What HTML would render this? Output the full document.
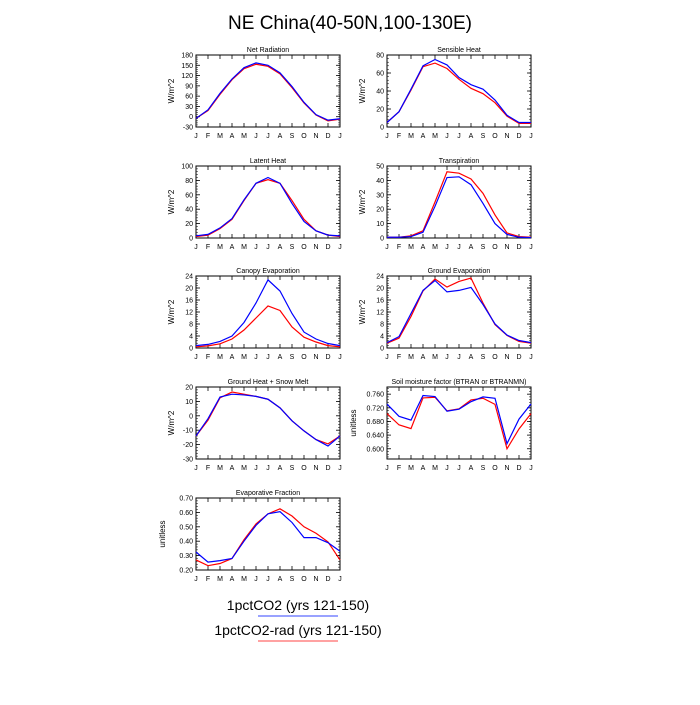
<!DOCTYPE html>
<html><head><meta charset="utf-8"><style>
body{margin:0;background:#fff;width:700px;height:700px;overflow:hidden;font-family:"Liberation Sans",sans-serif}
</style></head><body>
<svg id="c" width="700" height="700" xmlns="http://www.w3.org/2000/svg">
<text x="350" y="29" font-size="19" text-anchor="middle">NE China(40-50N,100-130E)</text>
<text x="298" y="610" font-size="14" text-anchor="middle">1pctCO2 (yrs 121-150)</text>
<line x1="258" y1="616" x2="338" y2="616" stroke="#3344ff" stroke-width="1"/>
<text x="298" y="635" font-size="14" text-anchor="middle">1pctCO2-rad (yrs 121-150)</text>
<line x1="258" y1="641" x2="338" y2="641" stroke="#ff4444" stroke-width="1"/>
</svg>
<script>
const months = ["J","F","M","A","M","J","J","A","S","O","N","D","J"];
const netRadBlue = [-5,20,68,110,143,157,150,128,88,42,6,-10,-6];
const netRadRed = [-5,18,65,108,140,153,147,125,85,40,5,-12,-7];
const sensBlue = [5,17,42,68,75,69,55,47,42,30,13,5,5];
const sensRed = [5,17,41,67,71,65,53,43,37,27,12,4,4];
const latBlue = [3,5,14,27,53,76,84,76,48,23,10,4,3];
const latRed = [2,4,13,26,52,76,81,76,52,26,10,4,2];
const trBlue = [0.5,0.5,1,4,22,42,42.5,37,24,10,2.5,0.5,0.3];
const trRed = [0.5,0.5,1.5,5,25,46,45,41,31,16,3.5,1,0.5];
const canBlue = [0.8,1.2,2.2,4,8.5,15,22.7,19,11.5,5.3,3,1.5,0.8];
const canRed = [0.4,0.7,1.4,3,6,10,14,12.5,7,3.6,2,0.8,0.4];
const geBlue = [1.8,3.8,11.5,19.2,22.5,18.7,19.2,20.2,14.5,8,4.3,2.5,1.8];
const geRed = [1.6,3.3,10.5,19,23,20.3,22.2,23.3,15,7.8,4.2,2.2,1.6];
const ghBlue = [-14,-2,13,15,14.5,13.5,11.5,5.5,-3.5,-10.5,-16.5,-21,-14];
const ghRed = [-14,-3,12.5,16.5,15,13.5,11.5,5.5,-3.5,-10.5,-16.5,-19.5,-14];
const smBlue = [0.731,0.695,0.684,0.756,0.753,0.710,0.716,0.738,0.752,0.748,0.615,0.687,0.731];
const smRed = [0.703,0.670,0.659,0.749,0.751,0.711,0.717,0.743,0.748,0.730,0.600,0.658,0.703];
const efBlue = [0.325,0.255,0.265,0.28,0.40,0.51,0.59,0.605,0.53,0.425,0.425,0.39,0.33];
const efRed = [0.27,0.23,0.245,0.28,0.41,0.52,0.59,0.625,0.575,0.50,0.455,0.395,0.27];
const netRadTicks = [-30,0,30,60,90,120,150,180];
const sensTicks = [0,20,40,60,80];
const latTicks = [0,20,40,60,80,100];
const trTicks = [0,10,20,30,40,50];
const evTicks = [0,4,8,12,16,20,24];
const ghTicks = [-30,-20,-10,0,10,20];
const smTicks = [0.600,0.640,0.680,0.720,0.760];
const efTicks = [0.20,0.30,0.40,0.50,0.60,0.70];

const NS="http://www.w3.org/2000/svg";
const svg=document.getElementById('c');
function mk(tag,attrs,parent){const e=document.createElementNS(NS,tag);for(const k in attrs)e.setAttribute(k,attrs[k]);(parent||svg).appendChild(e);return e;}

function panel(name,title,x0,y0,ymin,ymax,ticks,dec,ylab,blue,red){
  const w=144,h=72;
  const g=mk('g',{});
  
  
  const xs=i=>x0+i*w/12;
  const ys=v=>y0+h-(v-ymin)/(ymax-ymin)*h;
  const t=mk('text',{x:x0+w/2,y:y0-3,'font-size':7,'text-anchor':'middle'},g);
  t.textContent=title;
  
  
  const fr=mk('rect',{x:x0,y:y0,width:w,height:h,fill:'none',stroke:'#000','stroke-width':1},g);
  
  
  months.forEach((m,i)=>{
    const x=xs(i);
    mk('line',{x1:x,y1:y0+h,x2:x,y2:y0+h-4,stroke:'#000','stroke-width':0.8},g);
    mk('line',{x1:x,y1:y0,x2:x,y2:y0+4,stroke:'#000','stroke-width':0.8},g);
    const l=mk('text',{x:x,y:y0+h+11,'font-size':7,'text-anchor':'middle'},g);
    l.textContent=m;
    
    
  });
  const step=ticks.length>1?ticks[1]-ticks[0]:1;
  ticks.forEach((v,i)=>{
    const y=ys(v);
    mk('line',{x1:x0,y1:y,x2:x0+4,y2:y,stroke:'#000','stroke-width':0.8},g);
    mk('line',{x1:x0+w,y1:y,x2:x0+w-4,y2:y,stroke:'#000','stroke-width':0.8},g);
    const l=mk('text',{x:x0-3,y:y+2.5,'font-size':7,'text-anchor':'end'},g);
    l.textContent=v.toFixed(dec);
    
    
  });
  for(let v=ticks[0]-step;v<=ymax+1e-9;v+=step/5){
    if(v<ymin-1e-9)continue;
    const y=ys(v);
    mk('line',{x1:x0,y1:y,x2:x0+2,y2:y,stroke:'#000','stroke-width':0.5},g);
    mk('line',{x1:x0+w,y1:y,x2:x0+w-2,y2:y,stroke:'#000','stroke-width':0.5},g);
  }
  const yl=mk('text',{x:0,y:0,'font-size':8,'text-anchor':'middle',transform:`translate(${x0-(dec>1?31:22)},${y0+h/2}) rotate(-90)`},g);
  yl.textContent=ylab;
  
  
  const pr=mk('polyline',{points:red.map((v,i)=>xs(i)+','+ys(v)).join(' '),fill:'none',stroke:'#ff0000','stroke-width':1.2},g);
  
  
  const pb=mk('polyline',{points:blue.map((v,i)=>xs(i)+','+ys(v)).join(' '),fill:'none',stroke:'#0000ff','stroke-width':1.2},g);
  
  
}
const L=196,R=387;
panel('net-radiation','Net Radiation',L,55,-30,180,netRadTicks,0,'W/m^2',netRadBlue,netRadRed);
panel('sensible-heat','Sensible Heat',R,55,0,80,sensTicks,0,'W/m^2',sensBlue,sensRed);
panel('latent-heat','Latent Heat',L,166,0,100,latTicks,0,'W/m^2',latBlue,latRed);
panel('transpiration','Transpiration',R,166,0,50,trTicks,0,'W/m^2',trBlue,trRed);
panel('canopy-evaporation','Canopy Evaporation',L,276,0,24,evTicks,0,'W/m^2',canBlue,canRed);
panel('ground-evaporation','Ground Evaporation',R,276,0,24,evTicks,0,'W/m^2',geBlue,geRed);
panel('ground-heat','Ground Heat + Snow Melt',L,387,-30,20,ghTicks,0,'W/m^2',ghBlue,ghRed);
panel('soil-moisture','Soil moisture factor (BTRAN or BTRANMN)',R,387,0.57,0.781,smTicks,3,'unitless',smBlue,smRed);
panel('evaporative-fraction','Evaporative Fraction',L,498,0.2,0.7,efTicks,2,'unitless',efBlue,efRed);
</script>
</body></html>
